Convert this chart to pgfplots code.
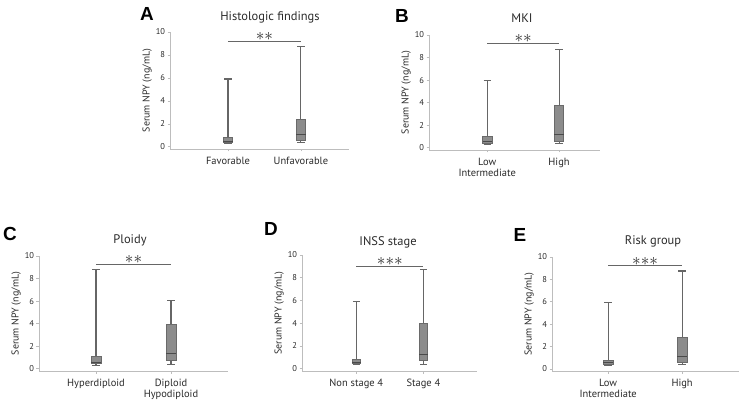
\documentclass[border=0pt]{standalone}
\usepackage{pgfplots}
\pgfplotsset{compat=1.18}
\usepgfplotslibrary{statistics}
\usepackage{fontspec}
\setmainfont{PT Sans}
\newfontfamily\letterfont{Liberation Sans}
\definecolor{boxgray}{HTML}{8C8C8C}
\definecolor{boxedge}{HTML}{6A6A6A}
\definecolor{whiskgray}{HTML}{666666}
\definecolor{linegray}{HTML}{BDBDBD}
\definecolor{txt}{HTML}{2A2A2A}
\pgfplotsset{
  panel/.style={
    scale only axis, anchor=south west,
    axis x line*=bottom, axis y line*=left,
    ymin=-0.2, ymax=10, ytick={0,2,...,10}, xtick={1,2},
    axis line style={draw=linegray, line width=0.6pt},
    tick style={draw=linegray, line width=0.5pt},
    major tick length=2.5bp, tick align=outside,
    clip=false,
    ylabel={Serum NPY (ng/mL)},
    ylabel style={font=\fontsize{10}{10}\selectfont, text=txt, yshift=-3bp},
    yticklabel style={font=\fontsize{8.5}{9}\selectfont, text=txt, xshift=1bp},
    xticklabel style={font=\fontsize{10.5}{11}\selectfont, text=txt, align=center, yshift=-2bp},
    /pgf/number format/assume math mode=true,
    boxplot/draw direction=y,
    boxplot/every box/.style={draw=boxedge, fill=boxgray, line width=0.6pt},
    boxplot/every median/.style={draw=boxedge!70!black, line width=0.5pt},
    boxplot/every whisker/.style={draw=whiskgray, line width=1.1pt},
    boxplot/box extend=0.13,
    boxplot/whisker extend=0.1,
  },
  sig/.style={draw=whiskgray, line width=0.9pt},
}
\newcommand{\bp}[6]{\addplot[boxplot prepared={draw position=#1, lower whisker=#2, lower quartile=#3, median=#4, upper quartile=#5, upper whisker=#6}] coordinates {};}
\newcommand{\stars}[1]{\node[anchor=base, yshift=0.5bp, inner sep=0pt, font=\fontsize{16}{16}\selectfont, text=txt] at #1}
\begin{document}
\begin{tikzpicture}
\useasboundingbox (0,0) rectangle (747bp,406bp);
% A
\begin{axis}[panel, at={(170bp,257bp)}, width=179bp, height=117bp, xmin=0.205, xmax=2.66,
  xticklabels={Favorable,Unfavorable}]
\bp{1}{0.3}{0.35}{0.5}{0.8}{5.9}
\bp{2}{0.35}{0.55}{1.1}{2.4}{8.75}
\addplot[sig] coordinates {(1,9.2) (2,9.2)};
\stars{(axis cs:1.5,9.2)} {${\ast}{\ast}$};
\end{axis}
% B
\begin{axis}[panel, at={(429bp,256bp)}, width=171bp, height=115bp, xmin=0.19, xmax=2.57,
  xticklabels={{Low\\Intermediate},High}]
\bp{1}{0.3}{0.4}{0.6}{1.0}{5.95}
\bp{2}{0.4}{0.6}{1.2}{3.75}{8.7}
\addplot[sig] coordinates {(1,9.29) (2,9.29)};
\stars{(axis cs:1.5,9.29)} {${\ast}{\ast}$};
\end{axis}
% C
\begin{axis}[panel, at={(39bp,35bp)}, width=189bp, height=115bp, xmin=0.24, xmax=2.76,
  xticklabels={Hyperdiploid,{Diploid\\Hypodiploid}}]
\bp{1}{0.3}{0.45}{0.6}{1.1}{8.8}
\bp{2}{0.4}{0.75}{1.35}{3.95}{6.05}
\addplot[sig] coordinates {(1,9.29) (2,9.29)};
\stars{(axis cs:1.5,9.29)} {${\ast}{\ast}$};
\end{axis}
% D
\begin{axis}[panel, at={(302bp,35bp)}, width=175bp, height=116bp, xmin=0.19, xmax=2.8,
  xticklabels={Non stage 4,Stage 4}]
\bp{1}{0.35}{0.45}{0.6}{0.85}{5.9}
\bp{2}{0.35}{0.75}{1.3}{4.0}{8.7}
\addplot[sig] coordinates {(1,9.03) (2,9.03)};
\stars{(axis cs:1.5,9.03)} {${\ast}{\ast}{\ast}$};
\end{axis}
% E
\begin{axis}[panel, at={(552bp,35bp)}, width=187bp, height=114bp, xmin=0.24, xmax=2.77,
  xticklabels={{Low\\Intermediate},High}]
\bp{1}{0.3}{0.4}{0.6}{0.8}{5.95}
\bp{2}{0.35}{0.6}{1.15}{2.85}{8.75}
\addplot[sig] coordinates {(1,9.22) (2,9.22)};
\stars{(axis cs:1.5,9.22)} {${\ast}{\ast}{\ast}$};
\end{axis}
% titles
\begin{scope}[every node/.style={font=\fontsize{12.5}{13}\selectfont, text=txt, inner sep=1pt}]
\node at (270bp,389bp) {Histologic findings};
\node at (522bp,388bp) {MKI};
\node at (130bp,166bp) {Ploidy};
\node at (388bp,164bp) {INSS stage};
\node at (653bp,165bp) {Risk group};
\end{scope}
\begin{scope}[every node/.style={font=\letterfont\bfseries\fontsize{19}{19}\selectfont}]
\node at (147bp,392bp) {A};
\node at (402bp,390bp) {B};
\node at (10bp,172bp) {C};
\node at (271bp,177bp) {D};
\node at (520bp,171bp) {E};
\end{scope}
\end{tikzpicture}
\end{document}
